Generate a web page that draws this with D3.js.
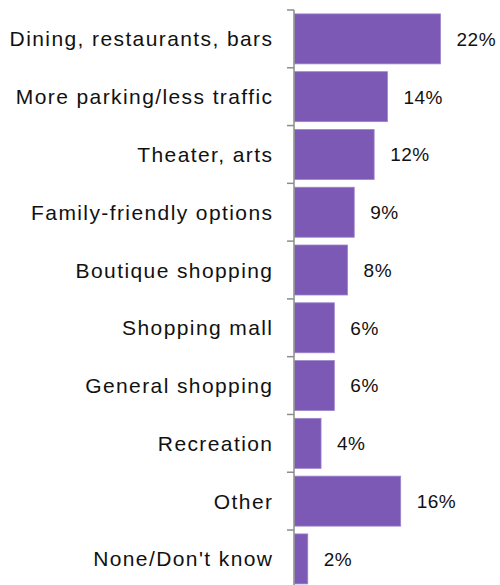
<!DOCTYPE html>
<html>
<head>
<meta charset="utf-8">
<script src="https://d3js.org/d3.v7.min.js"></script>
<style>
    body { margin: 0; background: #fff; }
    text { font-family: "Liberation Sans", Arial, sans-serif; fill: #111; }
</style>
</head>
<body>
<div id="graphique"></div>
<script>
    const categories = ['Dining, restaurants, bars', 'More parking/less traffic', 'Theater, arts',
        'Family-friendly options', 'Boutique shopping', 'Shopping mall', 'General shopping',
        'Recreation', 'Other', 'None/Don\'t know'];
    const valeurs = [22, 14, 12, 9, 8, 6, 6, 4, 16, 2];
    const etiquettes = valeurs.map(v => v + '%');

    const largeur = 500, hauteur = 585;
    const xAxe = 294;

    const svg = d3.select('#graphique').append('svg')
        .attr('width', largeur)
        .attr('height', hauteur);

    const y = d3.scaleBand()
        .domain(categories)
        .range([10, 587.8])
        .paddingInner(0.135)
        .paddingOuter(0.0675);

    const x = d3.scaleLinear()
        .domain([0, 22])
        .range([xAxe, 440]);

    // barres
    svg.selectAll('rect.barre')
        .data(valeurs)
        .enter()
        .append('rect')
        .attr('class', 'barre')
        .attr('x', x(0) + 0.5)
        .attr('y', (d, i) => y(categories[i]))
        .attr('width', d => x(d) - x(0))
        .attr('height', y.bandwidth())
        .attr('fill', '#7B59B5')
        .attr('stroke', '#9C84CA')
        .attr('stroke-width', 0.8);

    // pourcentages
    svg.selectAll('text.valeur')
        .data(valeurs)
        .enter()
        .append('text')
        .attr('class', 'valeur')
        .attr('x', d => x(d) + 16.5)
        .attr('y', (d, i) => y(categories[i]) + y.bandwidth() / 2)
        .attr('dy', '0.36em')
        .style('font-size', '19px')
        .style('letter-spacing', '0.5px')
        .text((d, i) => etiquettes[i]);

    // noms des categories
    svg.selectAll('text.categorie')
        .data(categories)
        .enter()
        .append('text')
        .attr('class', 'categorie')
        .attr('x', 273.4)
        .attr('y', d => y(d) + y.bandwidth() / 2)
        .attr('dy', '0.36em')
        .attr('text-anchor', 'end')
        .style('font-size', '21px')
        .style('letter-spacing', '1.4px')
        .text(d => d);

    // axe vertical avec graduations entre les barres
    const pas = y.step();
    const graduations = d3.range(categories.length + 1).map(i => 10 + i * pas);
    svg.append('line')
        .attr('x1', xAxe).attr('x2', xAxe)
        .attr('y1', 10).attr('y2', hauteur)
        .attr('stroke', '#8c8c8c')
        .attr('stroke-width', 1.5);
    svg.selectAll('line.graduation')
        .data(graduations)
        .enter()
        .append('line')
        .attr('class', 'graduation')
        .attr('x1', xAxe - 7).attr('x2', xAxe)
        .attr('y1', d => d).attr('y2', d => d)
        .attr('stroke', '#8c8c8c')
        .attr('stroke-width', 1.5);
</script>
</body>
</html>
